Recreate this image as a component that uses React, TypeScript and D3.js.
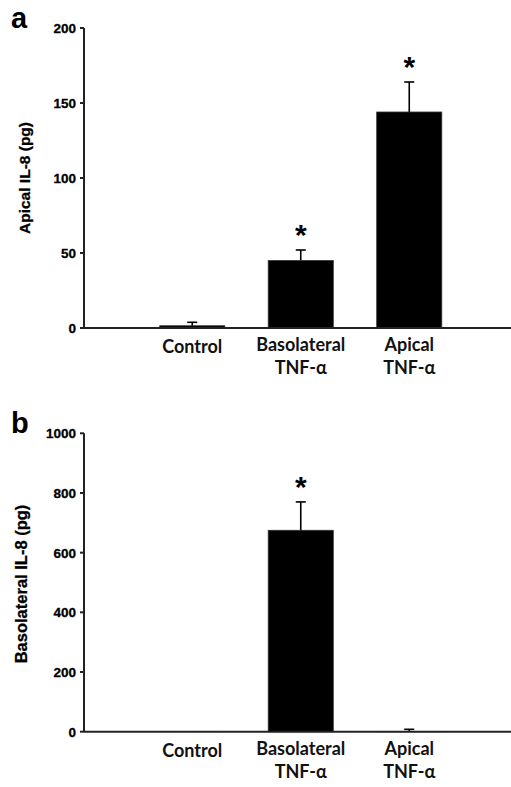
import * as d3 from "d3";

const categories = ["Control", "Basolateral", "Apical"];
const categoryLines = [["Control"], ["Basolateral", "TNF-α"], ["Apical", "TNF-α"]];

const apicalValues = [1.5, 45, 144];
const apicalErrors = [2.3, 7, 20];
const apicalStars = [false, true, true];
const apicalTicks = [0, 50, 100, 150, 200];

const basoValues = [0, 675, 1];
const basoErrors = [0, 95, 7];
const basoStars = [false, true, false];
const basoTicks = [0, 200, 400, 600, 800, 1000];

const W = 511;
const H = 787;
const tickFont = "'Liberation Sans', Arial, sans-serif";
const catFont = "Lato, 'Open Sans', sans-serif";

type PanelProps = {
  letter: string;
  title: string;
  titleSize: number;
  values: number[];
  errors: number[];
  stars: boolean[];
  ticks: number[];
  top: number;
  bottom: number;
  titleY: number;
  titleX: number;
};

function Panel({ letter, title, titleSize, values, errors, stars, ticks, top, bottom, titleY, titleX }: PanelProps) {
  const axisX = 84;
  const x = d3.scaleBand<string>()
    .domain(categories)
    .range([138, 463.5])
    .paddingInner(0.4)
    .paddingOuter(0.2);
  const y = d3.scaleLinear()
    .domain([0, ticks[ticks.length - 1]])
    .range([bottom, top]);
  const bw = x.bandwidth();

  return (
    <g>
      <text x={11} y={top} fontFamily={tickFont} fontWeight="bold" fontSize={29}>{letter}</text>
      <text
        transform={`translate(${titleX},${titleY}) rotate(-90)`}
        textAnchor="middle"
        fontFamily={tickFont}
        fontWeight="bold"
        fontSize={titleSize}
        stroke="#000"
        strokeWidth={0.3}
      >{title}</text>

      {categories.map((c, i) => {
        const cx = x(c)! + bw / 2;
        const v = values[i];
        const e = errors[i];
        return (
          <g key={c}>
            {v > 0 && (
              <rect x={x(c)} y={y(v)} width={bw} height={y(0) - y(v)} fill="#000" stroke="#333" strokeWidth={0.8} />
            )}
            {e > 0 && (
              <g stroke="#000" strokeWidth={1.6}>
                <line x1={cx} x2={cx} y1={y(v)} y2={y(v + e)} />
                <line x1={cx - 5} x2={cx + 5} y1={y(v + e)} y2={y(v + e)} />
              </g>
            )}
            {stars[i] && (
              <text x={cx} y={y(v + e) - 22 + 17} textAnchor="middle" fontFamily={tickFont} fontWeight="bold" fontSize={30}>*</text>
            )}
            {categoryLines[i].map((ln, j) => (
              <text
                key={j}
                x={cx}
                y={bottom + (categoryLines[i].length === 1 ? 25 : 23 + j * 23)}
                textAnchor="middle"
                fontFamily={catFont}
                fontWeight="bold"
                fontSize={18}
                fill="#111"
              >{ln}</text>
            ))}
          </g>
        );
      })}

      <g stroke="#222" strokeWidth={2}>
        <line x1={axisX} x2={axisX} y1={y(ticks[ticks.length - 1])} y2={bottom} />
        <line x1={axisX} x2={W} y1={bottom} y2={bottom} />
        {ticks.map(t => (
          <line key={t} x1={axisX - 4} x2={axisX} y1={y(t)} y2={y(t)} />
        ))}
      </g>
      {ticks.map(t => (
        <text key={t} x={76} y={y(t)} dy="0.36em" textAnchor="end" fontFamily={tickFont} fontWeight="bold" fontSize={13.5} stroke="#000" strokeWidth={0.3}>{t}</text>
      ))}
    </g>
  );
}

export default function App() {
  return (
    <svg width={W} height={H} style={{ position: "absolute", left: 0, top: 0, background: "#fff" }}>
      <Panel
        letter="a"
        title="Apical IL-8 (pg)"
        titleSize={15.5}
        values={apicalValues}
        errors={apicalErrors}
        stars={apicalStars}
        ticks={apicalTicks}
        top={28}
        bottom={328}
        titleX={30}
        titleY={178}
      />
      <Panel
        letter="b"
        title="Basolateral IL-8 (pg)"
        titleSize={16.5}
        values={basoValues}
        errors={basoErrors}
        stars={basoStars}
        ticks={basoTicks}
        top={433.3}
        bottom={731.7}
        titleX={27}
        titleY={584}
      />
    </svg>
  );
}
